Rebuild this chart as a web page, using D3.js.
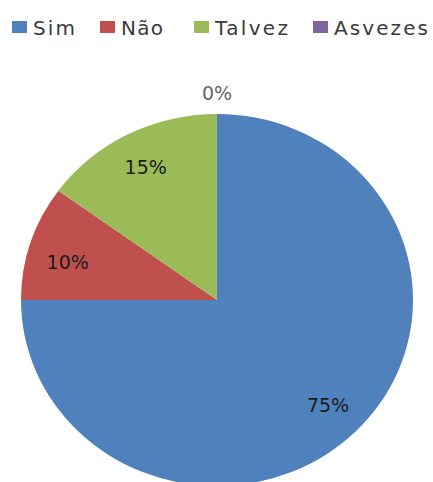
<!DOCTYPE html>
<html>
<head>
<meta charset="utf-8">
<script src="https://cdn.jsdelivr.net/npm/d3@7"></script>
<style>
  html, body { margin: 0; padding: 0; background: #fff; }
  svg { display: block; }
  text { font-family: "DejaVu Sans", Verdana, sans-serif; }
</style>
</head>
<body>
<svg id="chart" width="433" height="482"></svg>
<script>
// Survey answers and their shares (%)
const categories = ["Sim", "Não", "Talvez", "Asvezes"];
const values = [75, 10, 15, 0];
const colors = ["#4F81BD", "#C0504D", "#9BBB59", "#8064A2"];
const labelTexts = ["75%", "10%", "15%", "0%"];

const W = 433, H = 482;
const cx = 217, cy = 300;
const ry = 186, rx = 196;          // pie is drawn slightly wider than tall
const labelR = 149, outsideR = 207;

const svg = d3.select("#chart");

const color = d3.scaleOrdinal().domain(categories).range(colors);

const data = categories.map((c, i) => ({ cat: c, value: values[i], label: labelTexts[i] }));

const pie = d3.pie().sort(null).value(d => d.value).startAngle(0).endAngle(2 * Math.PI);
const arcs = pie(data);

const arc = d3.arc().innerRadius(0).outerRadius(ry);
const labelArc = d3.arc().innerRadius(labelR).outerRadius(labelR);
const outArc = d3.arc().innerRadius(outsideR).outerRadius(outsideR);

const sx = rx / ry;
const g = svg.append("g").attr("transform", `translate(${cx},${cy})`);

g.append("g").attr("transform", `scale(${sx},1)`)
  .selectAll("path")
  .data(arcs.filter(a => a.value > 0))
  .join("path")
  .attr("d", arc)
  .attr("fill", d => color(d.data.cat));

// Percentage labels: inside for non-empty slices, outside for empty ones
g.selectAll("text.lbl")
  .data(arcs)
  .join("text")
  .attr("class", "lbl")
  .attr("x", d => (d.value > 0 ? labelArc : outArc).centroid(d)[0] * sx)
  .attr("y", d => (d.value > 0 ? labelArc : outArc).centroid(d)[1] + (d.data.cat === "Não" ? 8 : 0))
  .attr("dy", "0.36em")
  .attr("text-anchor", "middle")
  .attr("font-size", 19)
  .attr("fill", d => d.value > 0 ? "#1c1c1c" : "#666")
  .text(d => d.data.label);

// Legend across the top
const legendX = [12, 100, 194, 313];
const legendW = [42, 42, 73, 94];
const legend = svg.append("g").selectAll("g")
  .data(categories)
  .join("g")
  .attr("transform", (d, i) => `translate(${legendX[i]},0)`);

legend.append("rect")
  .attr("x", 0).attr("y", 21)
  .attr("width", 15).attr("height", 12)
  .attr("fill", d => color(d));

legend.append("text")
  .attr("x", 21).attr("y", 35)
  .attr("font-size", 20)
  .attr("fill", "#3a3a3a")
  .attr("textLength", (d, i) => legendW[i])
  .attr("lengthAdjust", "spacing")
  .text(d => d);
</script>
</body>
</html>
